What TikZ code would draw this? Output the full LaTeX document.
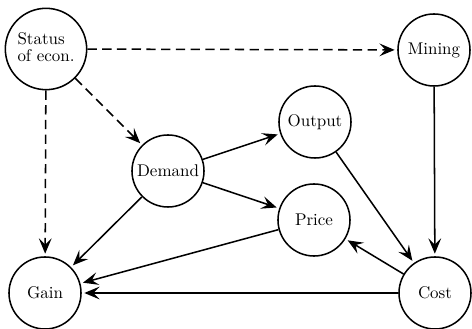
\documentclass[tikz,border=0pt]{standalone}
\usetikzlibrary{arrows.meta}
\begin{document}
\begin{tikzpicture}[x=0.59pt,y=-0.59pt,
  var/.style={circle,draw,line width=0.9pt,minimum size=42.5pt,inner sep=2pt,font=\fontsize{10}{11}\selectfont},
  edge/.style={line width=0.9pt,-{Stealth[length=9pt,width=7.5pt,inset=3.6pt]},shorten >=1.5pt},
  dashedge/.style={edge,dash pattern=on 5.5pt off 3.2pt}]
\useasboundingbox (0,0) rectangle (472,329);
\node[var,minimum size=48pt] (status) at (46,49) {\begin{tabular}{@{}l@{}}Status\\[-1pt]of econ.\end{tabular}};
\node[var] (mining) at (434,50) {Mining};
\node[var] (output) at (315,122) {Output};
\node[var] (demand) at (168,171) {Demand};
\node[var] (price) at (314,220) {Price};
\node[var] (gain) at (45,293) {Gain};
\node[var] (cost) at (435,293) {Cost};
\draw[dashedge] (status) -- (mining);
\draw[dashedge] (status) -- (demand);
\draw[dashedge] (status) -- (gain);
\draw[edge] (demand) -- (output);
\draw[edge] (demand) -- (price);
\draw[edge] (demand) -- (gain);
\draw[edge] (output) -- (cost);
\draw[edge] (mining) -- (cost);
\draw[edge] (cost) -- (price);
\draw[edge] (price) -- (gain);
\draw[edge] (cost) -- (gain);
\end{tikzpicture}
\end{document}
